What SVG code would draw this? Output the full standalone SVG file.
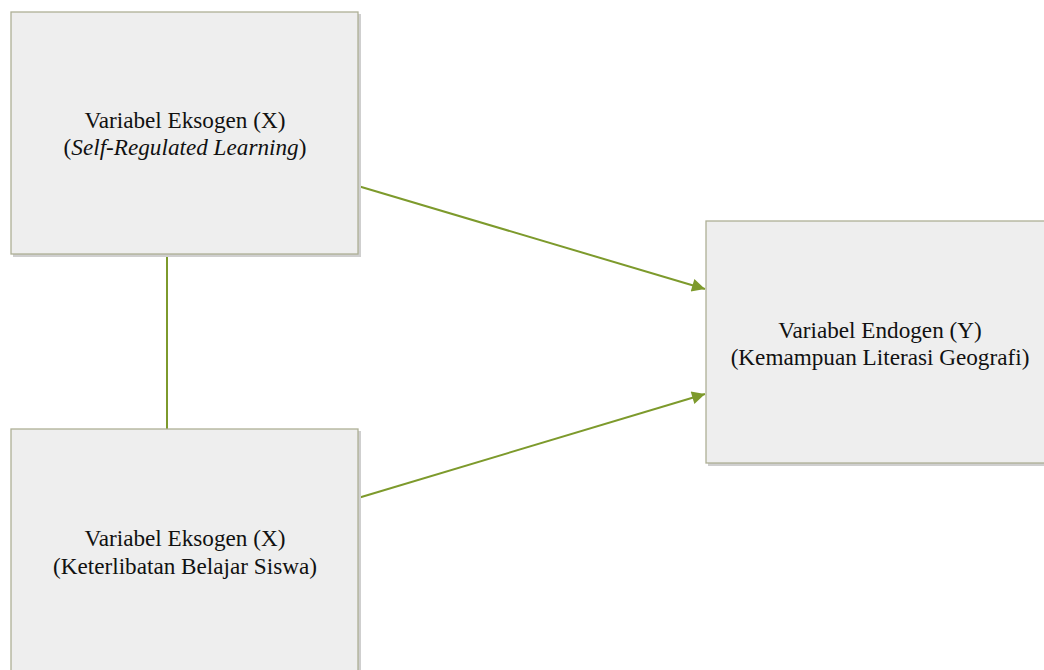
<svg xmlns="http://www.w3.org/2000/svg" width="1044" height="670" viewBox="0 0 1044 670">
<style>
.box{fill:#eeeeee;stroke:#aeb096;stroke-width:1.3}
.shadow{fill:#cfcfcf}
.t{font-family:"Liberation Serif","Times New Roman",serif;font-size:23.2px;fill:#111111;text-anchor:middle}
.c{stroke:#7d9a2c;stroke-width:2;fill:none}
</style>
<defs>
<marker id="ah" viewBox="0 0 10 10" refX="10" refY="5" markerWidth="8" markerHeight="6.5" markerUnits="strokeWidth" orient="auto">
<path d="M0,0 L10,5 L0,10 z" fill="#7d9a2c"/>
</marker>
</defs>
<rect width="1044" height="670" fill="#ffffff"/>
<g id="connectors">
<line class="c" x1="167" y1="255" x2="167" y2="429"/>
<line class="c" x1="358" y1="186" x2="705" y2="289" marker-end="url(#ah)"/>
<line class="c" x1="358" y1="498" x2="705" y2="394" marker-end="url(#ah)"/>
</g>
<g id="node-x1">
<rect class="shadow" x="13" y="14" width="348" height="243"/>
<rect class="box" x="11" y="12" width="347" height="242"/>
<text class="t" x="185" y="128">Variabel Eksogen (X)</text>
<text class="t" x="185" y="155">(<tspan font-style="italic">Self-Regulated Learning</tspan>)</text>
</g>
<g id="node-x2">
<rect class="shadow" x="13" y="431" width="348" height="245"/>
<rect class="box" x="11" y="429" width="347" height="250"/>
<text class="t" x="185" y="546">Variabel Eksogen (X)</text>
<text class="t" x="185" y="574">(Keterlibatan Belajar Siswa)</text>
</g>
<g id="node-y">
<rect class="shadow" x="708" y="223" width="350" height="243"/>
<rect class="box" x="706" y="221" width="350" height="242"/>
<text class="t" x="880" y="338">Variabel Endogen (Y)</text>
<text class="t" x="880" y="365">(Kemampuan Literasi Geografi)</text>
</g>
</svg>
